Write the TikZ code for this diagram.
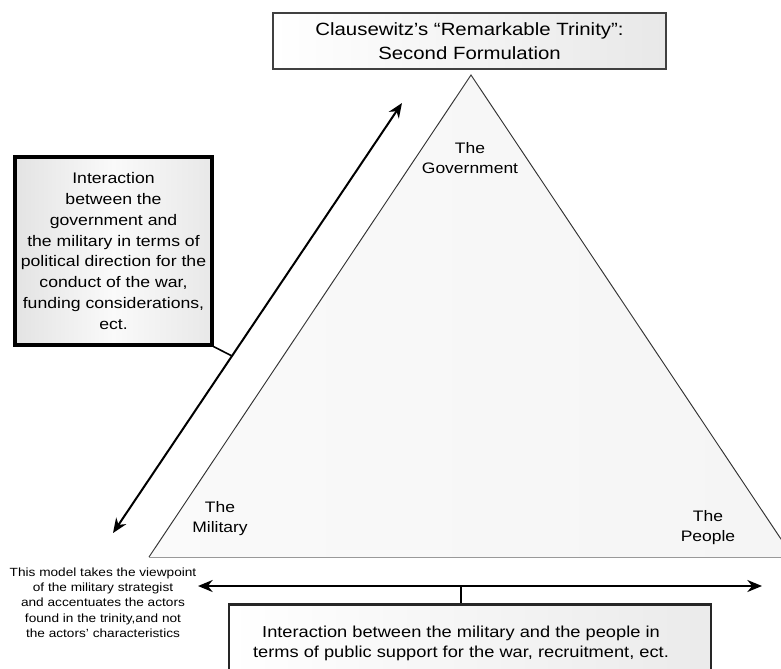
\documentclass[tikz,border=0pt]{standalone}
\usepackage{fontspec}
\setmainfont{Liberation Sans}[FakeStretch=1.15]
\usetikzlibrary{arrows.meta}
\begin{document}
\begin{tikzpicture}[x=0.75pt,y=-0.75pt,
  dblarrow/.style={line width=1.5pt,{Stealth[length=11pt,width=9pt]}-{Stealth[length=11pt,width=9pt]}},
  titlebox/.style={draw=black!75,line width=0.9pt,left color=white,right color=black!9,
     minimum width=294.75pt,minimum height=42pt,align=center,inner sep=0pt,
     font=\fontsize{13.3pt}{17.5pt}\selectfont},
  callout/.style={draw=black,line width=2.3pt,left color=black!11,right color=black!9,middle color=black!2,
     minimum width=147.75pt,minimum height=141pt,align=center,inner sep=0pt,
     font=\fontsize{11.5pt}{15.7pt}\selectfont},
  bottombox/.style={draw=black!85,line width=1.6pt,left color=white,right color=black!8,
     minimum width=361.5pt,minimum height=63.75pt,inner sep=0pt},
  lbl/.style={align=center,inner sep=0pt,font=\fontsize{11.4pt}{15pt}\selectfont},
  btext/.style={align=center,inner sep=0pt,font=\fontsize{11.9pt}{15pt}\selectfont},
  small/.style={align=center,inner sep=0pt,font=\fontsize{8.9pt}{11.5pt}\selectfont}
]
\useasboundingbox (0,0) rectangle (781,668);
\clip (0,0) rectangle (781,668);
\fill[white] (0,0) rectangle (781,668);

% triangle
\coordinate (apex) at (471,75);
\coordinate (bl) at (149,557);
\coordinate (br) at (793,557);
\shade[left color=black!2,middle color=black!17,right color=black!4] (apex) -- (bl) -- (br) -- cycle;
\draw[black!80,line width=0.7pt] (bl) -- (apex) -- (br);
\draw[black!40,line width=0.7pt] (bl) -- (br);

% title
\node[titlebox] (title) at (469.5,41) {Clausewitz's “Remarkable Trinity”:\\Second Formulation};

% vertex labels
\node[lbl] (gov) at (470,158) {The\\Government};
\node[lbl] (mil) at (220,519) {The\\Military};
\node[lbl] (peo) at (708,528) {The\\People};

% left callout and arrow
\node[callout] (call) at (113.5,251) {Interaction\\between the\\government and\\the military in terms of\\political direction for the\\conduct of the war,\\funding considerations,\\ect.};
\coordinate (lt) at (113,533);
\coordinate (ut) at (402,103);
\coordinate (lj) at (232,356);
\draw[dblarrow] (lt) -- (ut);
\draw[line width=1.2pt] (call.south east) -- (lj);

% bottom arrow and box
\coordinate (bla) at (198,586);
\coordinate (bra) at (762,586);
\coordinate (bj) at (461,586);
\draw[dblarrow] (bla) -- (bra);
\node[bottombox] (bbox) at (470,647) {};
\draw[line width=1.5pt] (bj) -- (bj |- bbox.north);
\node[btext] (btxt) at (461,643) {Interaction between the military and the people in\\terms of public support for the war, recruitment, ect.};

% bottom-left note
\node[small] (note) at (103,602.5) {This model takes the viewpoint\\of the military strategist\\and accentuates the actors\\found in the trinity,and not\\the actors' characteristics};
\end{tikzpicture}
\end{document}
